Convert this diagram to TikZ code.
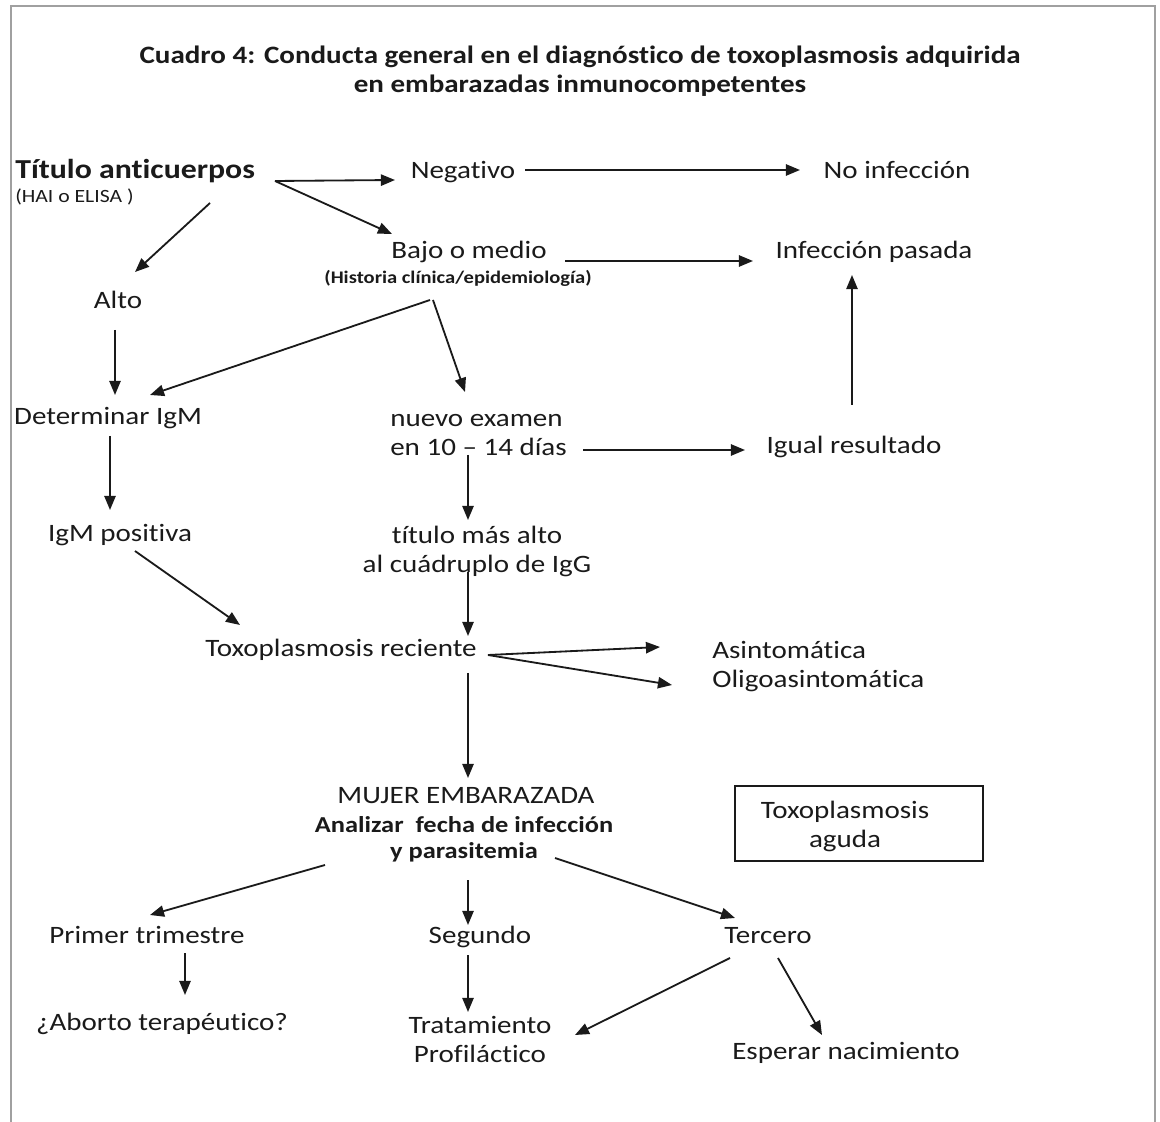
\documentclass[tikz,border=0pt]{standalone}
\usepackage{fontspec}
\setmainfont[FakeStretch=1.16, Ligatures={NoCommon}]{Carlito}
\usetikzlibrary{arrows.meta,calc}
\newcommand\bodyf{\fontsize{17.8}{20.6}\selectfont}
\newcommand\titf{\fontsize{17.8}{20.6}\selectfont\bfseries}
\newcommand\bigbf{\fontsize{19.5}{22}\selectfont\bfseries}
\newcommand\smallf{\fontsize{13.3}{15}\selectfont}
\newcommand\histf{\fontsize{12.6}{14}\selectfont\bfseries}
\newcommand\analf{\fontsize{16.2}{18.5}\selectfont\bfseries}
\definecolor{ink}{HTML}{1A1A1A}
\definecolor{frame}{HTML}{A0A0A0}
\begin{document}
\begin{tikzpicture}[x=0.025cm,y=-0.025cm,
  every node/.style={text=ink},
  t/.style={inner sep=0pt, font=\bodyf, text height=0.95em, text depth=0.05em},
  tm/.style={inner sep=0pt, font=\bodyf, align=center},
  arr/.style={draw=ink, line width=1.3pt, -{Triangle[length=10pt,width=8pt]}},
]
\useasboundingbox (0,0) rectangle (1160,1122);
\draw[frame, line width=1.5pt] (11,1122) -- (11,6) -- (1155,6) -- (1155,1122);

\node[tm, font=\titf] (title) at (580,71) {Cuadro 4: Conducta general en el diagnóstico de toxoplasmosis adquirida\\en embarazadas inmunocompetentes};

\node[t, font=\bigbf, anchor=west] (tit) at (15,172) {Título anticuerpos};
\node[inner sep=0pt, font=\smallf, anchor=west] (hai) at (15,197) {(HAI o ELISA )};
\node[t] (neg) at (463,172) {Negativo};
\node[t] (noinf) at (897,172) {No infección};
\node[t] (bajo) at (469,252) {Bajo o medio};
\node[inner sep=0pt, font=\histf] (hist) at (458,278) {(Historia clínica/epidemiología)};
\node[t] (pas) at (874,252) {Infección pasada};
\node[t] (alto) at (118,302) {Alto};
\node[t] (det) at (108,418) {Determinar IgM};
\node[tm, align=left, anchor=west] (nuevo) at (390,435) {nuevo examen\\en 10 – 14 días};
\node[t] (igual) at (854,447) {Igual resultado};
\node[t] (igmp) at (120,535) {IgM positiva};
\node[tm] (titulo) at (477,551) {título más alto\\al cuádruplo de IgG};
\node[t] (toxo) at (341,650) {Toxoplasmosis reciente};
\node[tm, align=left, anchor=west] (asin) at (712,667) {Asintomática\\Oligoasintomática};
\node[t] (mujer) at (466,797) {MUJER EMBARAZADA};
\node[tm, font=\analf] (anal) at (464,839) {Analizar\ \ fecha de infección\\y parasitemia};
\draw[ink, line width=1pt] (735,786) rectangle (983,861);
\node[tm] (boxt) at (845,826) {Toxoplasmosis\\aguda};
\node[t] (prim) at (147,937) {Primer trimestre};
\node[t] (seg) at (480,937) {Segundo};
\node[t] (ter) at (768,937) {Tercero};
\node[t] (abo) at (162,1024) {¿Aborto terapéutico?};
\node[tm] (trat) at (480,1039) {Tratamiento\\Profiláctico};
\node[t] (esp) at (846,1053) {Esperar nacimiento};

\draw[arr] ($(tit.west)+(260,9)$) -- ($(neg)+(-68,8)$);
\draw[arr] ($(tit.west)+(260,9)$) -- ($(bajo)+(-77,-18)$);
\draw[arr] ($(tit.west)+(195,31)$) -- ($(alto)+(17,-30)$);
\draw[arr] ($(neg)+(62,-2)$) -- ($(noinf)+(-97,-2)$);
\draw[arr] ($(bajo)+(96,9)$) -- ($(pas)+(-121,9)$);
\draw[arr] ($(alto)+(-3,28)$) -- ($(det)+(7,-23)$);
\draw[arr] ($(hist)+(-28,22)$) -- ($(det)+(42,-23)$);
\draw[arr] ($(hist)+(-25,22)$) -- ($(nuevo.west)+(75,-43)$);
\draw[arr] ($(igual)+(-2,-42)$) -- ($(pas)+(-22,23)$);
\draw[arr] ($(nuevo.west)+(193,15)$) -- ($(igual)+(-109,3)$);
\draw[arr] ($(det)+(2,18)$) -- ($(igmp)+(-10,-25)$);
\draw[arr] ($(nuevo.west)+(78,20)$) -- ($(titulo)+(-9,-31)$);
\draw[arr] ($(titulo)+(-9,21)$) -- ($(toxo)+(127,-14)$);
\draw[arr] ($(igmp)+(15,16)$) -- ($(toxo)+(-101,-25)$);
\draw[arr] ($(toxo)+(147,5)$) -- ($(asin.west)+(-52,-20)$);
\draw[arr] ($(toxo)+(147,5)$) -- ($(asin.west)+(-40,18)$);
\draw[arr] ($(toxo)+(127,23)$) -- ($(mujer)+(2,-19)$);
\draw[arr] ($(anal)+(-139,26)$) -- ($(prim)+(3,-22)$);
\draw[arr] ($(anal)+(4,41)$) -- ($(seg)+(-12,-12)$);
\draw[arr] ($(anal)+(91,19)$) -- ($(ter)+(-33,-19)$);
\draw[arr] ($(prim)+(38,16)$) -- ($(abo)+(23,-29)$);
\draw[arr] ($(seg)+(-12,18)$) -- ($(trat)+(-12,-27)$);
\draw[arr] ($(ter)+(-38,21)$) -- ($(trat)+(95,-4)$);
\draw[arr] ($(ter)+(10,21)$) -- ($(esp)+(-24,-18)$);
\end{tikzpicture}
\end{document}
